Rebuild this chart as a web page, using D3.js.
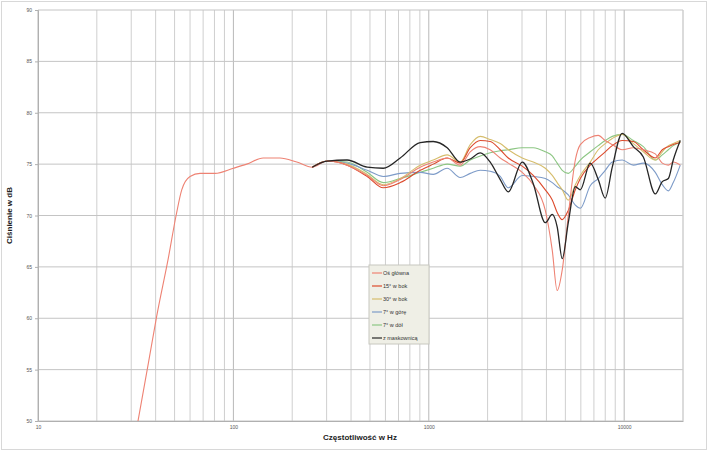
<!DOCTYPE html>
<html>
<head>
<meta charset="utf-8">
<script src="https://cdn.jsdelivr.net/npm/d3@7"></script>
<style>
  body { margin: 0; background: #fff; }
  text { font-family: "Liberation Sans", Arial, sans-serif; }
</style>
</head>
<body>
<script>
// Frequency response data (Hz / dB)

// main axis only, low range
var lowFreq = [32.5, 36.7, 40.5, 46.5, 50.9, 54.4, 60, 67.5, 80.5, 100, 117, 142, 173, 211];
var lowMain = [50.0, 55.6, 60.2, 65.9, 70.0, 72.5, 73.8, 74.1, 74.1, 74.6, 75.0, 75.6, 75.6, 75.2];

// all curves from 250 Hz on
var freq = [253, 302, 382, 484, 585, 714, 904, 1054, 1242, 1448, 1630, 1834, 2062, 2321, 2551, 3008, 3425,
  3948, 4285, 4540, 4819, 5175, 5623, 5963, 6703, 7365, 8000, 8690, 9772, 11140, 12530, 14430, 15670, 16830, 17830, 19370];

var osGlowna = [74.7, 75.3, 74.9, 73.9, 72.9, 73.5, 74.7, 75.2, 75.6, 74.9, 76.2, 76.7, 76.4, 75.6, 75.1, 74.2, 73.0,
  70.5, 66.6, 62.7, 64.7, 70.0, 75.4, 76.9, 77.6, 77.8, 77.3, 76.9, 76.4, 76.6, 76.4, 76.0, 75.1, 74.9, 75.2, 74.9];
var bok15 = [74.7, 75.3, 74.9, 73.8, 72.7, 73.2, 74.4, 75.0, 75.6, 75.1, 76.6, 77.3, 77.2, 76.4, 75.6, 74.8, 73.9,
  72.5, 71.5, 70.3, 69.6, 70.5, 72.5, 73.6, 74.9, 75.6, 76.2, 76.8, 77.3, 77.2, 76.4, 75.6, 76.4, 76.7, 76.9, 77.1];
var bok30 = [74.7, 75.3, 75.0, 74.0, 73.0, 73.6, 74.9, 75.4, 75.9, 75.2, 76.9, 77.7, 77.4, 77.0, 76.4, 75.6, 75.2,
  74.6, 73.9, 73.2, 72.5, 71.5, 73.0, 73.9, 75.2, 76.4, 77.0, 77.5, 77.9, 77.0, 76.2, 75.4, 76.2, 76.8, 77.0, 77.3];
var gora7 = [74.7, 75.3, 75.1, 74.4, 73.8, 74.1, 74.2, 74.0, 74.6, 73.7, 74.1, 74.4, 74.3, 73.8, 72.7, 73.9, 73.8,
  73.6, 73.2, 72.8, 72.5, 72.0, 71.0, 70.7, 72.9, 73.6, 74.4, 75.2, 75.4, 74.9, 75.1, 74.2, 73.0, 72.4, 73.2, 74.9];
var dol7 = [74.7, 75.3, 75.2, 74.2, 73.2, 73.6, 74.2, 74.6, 75.0, 74.8, 75.4, 75.8, 76.1, 76.3, 76.4, 76.6, 76.6,
  76.2, 75.8, 75.1, 74.4, 74.1, 74.8, 75.4, 76.2, 76.8, 77.3, 77.7, 77.9, 77.3, 76.7, 75.4, 75.9, 76.4, 76.8, 77.1];
var maskownica = [74.7, 75.3, 75.4, 74.7, 74.6, 75.6, 77.1, 77.2, 76.6, 75.2, 75.5, 76.1, 75.2, 73.5, 72.3, 75.2, 73.1,
  69.3, 70.1, 68.9, 65.8, 69.3, 72.8, 72.5, 75.1, 73.5, 71.7, 74.7, 78.0, 76.7, 75.7, 72.1, 73.3, 73.6, 75.4, 77.3];

var seriesNames = ["Oś główna", "15° w bok", "30° w bok", "7° w górę", "7° w dół", "z maskownicą"];
var seriesColors = ["#ee8273", "#dc4a2c", "#d6bd6c", "#7d9bc8", "#8cc683", "#262626"];

var yTicks = [50, 55, 60, 65, 70, 75, 80, 85, 90];
var xTicks = [10, 100, 1000, 10000];

var w = 708;
var h = 451;
var plotLeft = 38, plotRight = 683, plotTop = 10, plotBottom = 421;

var svg = d3.select("body")
  .append("svg")
  .attr("width", w)
  .attr("height", h);

// outer frame
svg.append("rect")
  .attr("x", 1.5).attr("y", 1.5)
  .attr("width", w - 3).attr("height", h - 3)
  .attr("fill", "#fff")
  .attr("stroke", "#d8d8d8");

var xScale = d3.scaleLog()
  .domain([10, 20000])
  .range([plotLeft, plotRight]);

var yScale = d3.scaleLinear()
  .domain([50, 90])
  .range([plotBottom, plotTop]);

// vertical grid (1..9 per decade)
var gridX = [];
[10, 100, 1000, 10000].forEach(function(d) {
  for (var k = 1; k < 10; k++) {
    if (d * k <= 20000) gridX.push(d * k);
  }
});

svg.append("g")
  .selectAll("line")
  .data(gridX)
  .enter()
  .append("line")
  .attr("x1", function(d) { return xScale(d); })
  .attr("x2", function(d) { return xScale(d); })
  .attr("y1", plotTop)
  .attr("y2", plotBottom)
  .attr("stroke", function(d) { return xTicks.indexOf(d) >= 0 ? "#b8b8b8" : "#cfcfcf"; })
  .attr("stroke-width", 1);

// horizontal grid
svg.append("g")
  .selectAll("line")
  .data(yTicks)
  .enter()
  .append("line")
  .attr("x1", plotLeft)
  .attr("x2", plotRight)
  .attr("y1", function(d) { return yScale(d); })
  .attr("y2", function(d) { return yScale(d); })
  .attr("stroke", "#c4c4c4");

// right edge
svg.append("line")
  .attr("x1", plotRight).attr("x2", plotRight)
  .attr("y1", plotTop).attr("y2", plotBottom)
  .attr("stroke", "#cfcfcf");

// axes
var yAxis = svg.append("g")
  .attr("transform", "translate(" + plotLeft + ",0)")
  .call(d3.axisLeft(yScale).tickValues(yTicks).tickSize(3).tickFormat(d3.format("d")));

var xAxis = svg.append("g")
  .attr("transform", "translate(0," + plotBottom + ")")
  .call(d3.axisBottom(xScale).tickValues(xTicks).tickSize(0).tickFormat(d3.format("d")));

[yAxis, xAxis].forEach(function(a) {
  a.select(".domain").attr("stroke", "#b0b0b0");
  a.selectAll(".tick line").attr("stroke", "#b0b0b0");
  a.selectAll("text").attr("fill", "#555").style("font-size", "5px");
});
xAxis.selectAll("text").attr("dy", "0.9em");

// curves
var line = d3.line()
  .x(function(d) { return xScale(d[0]); })
  .y(function(d) { return yScale(d[1]); })
  .curve(d3.curveMonotoneX);

var values = [osGlowna, bok15, bok30, gora7, dol7, maskownica];
var data = values.map(function(v, i) {
  var pts = freq.map(function(f, j) { return [f, v[j]]; });
  if (i == 0) {
    pts = lowFreq.map(function(f, j) { return [f, lowMain[j]]; }).concat(pts);
  }
  return pts;
});

// draw from the back: black one last
var order = [4, 3, 2, 1, 0, 5];
order.forEach(function(i) {
  svg.append("path")
    .datum(data[i])
    .attr("fill", "none")
    .attr("stroke", seriesColors[i])
    .attr("stroke-width", i == 5 ? 1.3 : 1.1)
    .attr("d", line);
});

// legend
var lx = 369, ly = 265;
svg.append("rect")
  .attr("x", lx).attr("y", ly)
  .attr("width", 60).attr("height", 79)
  .attr("fill", "#efefe6")
  .attr("stroke", "#c8c8c0");

var legend = svg.selectAll(".legend")
  .data(seriesNames)
  .enter()
  .append("g")
  .attr("class", "legend")
  .attr("transform", function(d, i) {
    return "translate(" + lx + "," + (ly + 8 + i * 13) + ")";
  });

legend.append("line")
  .attr("x1", 3).attr("x2", 13)
  .attr("y1", 0).attr("y2", 0)
  .attr("stroke", function(d, i) { return seriesColors[i]; })
  .attr("stroke-width", 1.2);

legend.append("text")
  .attr("x", 14)
  .attr("y", 2)
  .style("font-size", "5.5px")
  .attr("fill", "#333")
  .text(function(d) { return d; });

// axis titles
svg.append("text")
  .attr("x", 360)
  .attr("y", 440)
  .style("text-anchor", "middle")
  .style("font-size", "8px")
  .style("font-weight", "bold")
  .attr("fill", "#222")
  .text("Częstotliwość w Hz");

svg.append("text")
  .attr("transform", "translate(12," + ((plotTop + plotBottom) / 2) + ") rotate(-90)")
  .style("text-anchor", "middle")
  .style("font-size", "8px")
  .style("font-weight", "bold")
  .attr("fill", "#222")
  .text("Ciśnienie w dB");
</script>
</body>
</html>
